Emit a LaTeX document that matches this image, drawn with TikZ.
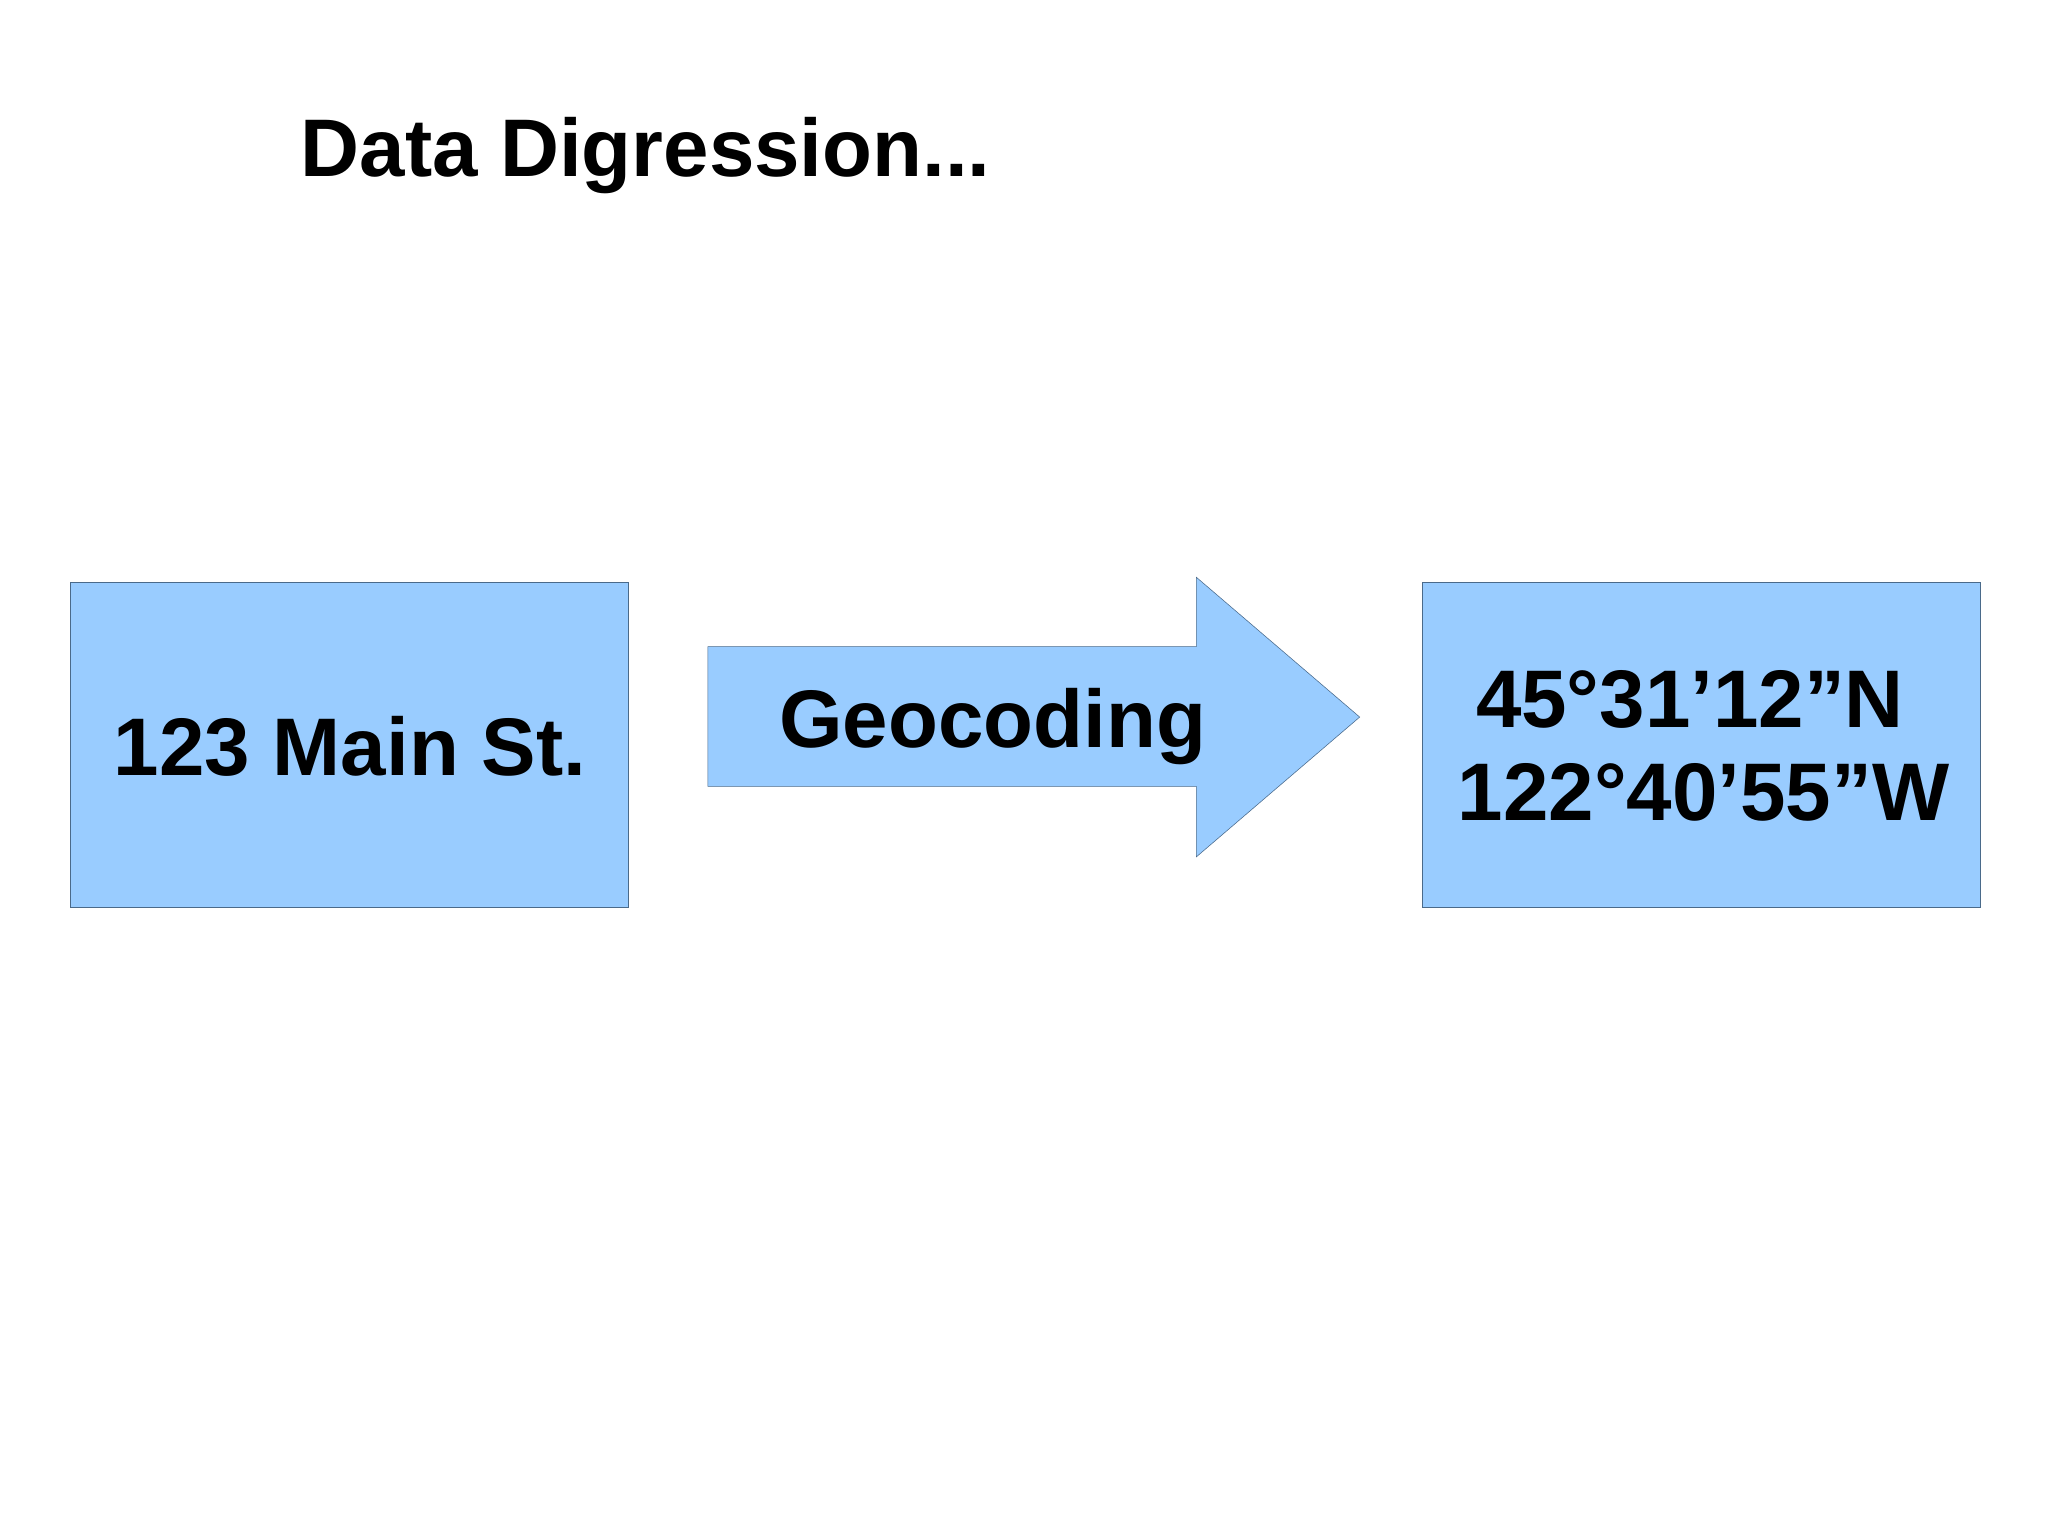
\documentclass[tikz,border=0pt]{standalone}
\usepackage{fontspec}
\setmainfont{Liberation Sans}
\definecolor{boxfill}{HTML}{99CCFF}
\definecolor{boxline}{HTML}{4A6A8A}
\begin{document}
\begin{tikzpicture}[x=0.05cm,y=-0.05cm,
  bigtxt/.style={font=\fontsize{89}{102}\selectfont\bfseries, text=black, inner sep=0pt},
  bluebox/.style={fill=boxfill, draw=boxline, line width=0.6pt}]
\useasboundingbox[fill=white] (0,0) rectangle (1568,1175);
\node[bigtxt, anchor=base west] (title) at (230,135) {Data Digression...};
\draw[bluebox] (54,446) rectangle (481,695);
\node[bigtxt, anchor=base] (addr) at (268,594) {123 Main St.};
\draw[bluebox] (542,495) -- (916,495) -- (916,442) -- (1041,549) -- (916,656) -- (916,602) -- (542,602) -- cycle;
\node[bigtxt, anchor=base] (geo) at (760,572) {Geocoding};
\draw[bluebox] (1089,446) rectangle (1516,695);
\node[bigtxt, anchor=base west] (lat) at (1130,557) {45°31’12”N};
\node[bigtxt, anchor=base west] (lon) at (1116,628) {122°40’55”W};
\end{tikzpicture}
\end{document}
